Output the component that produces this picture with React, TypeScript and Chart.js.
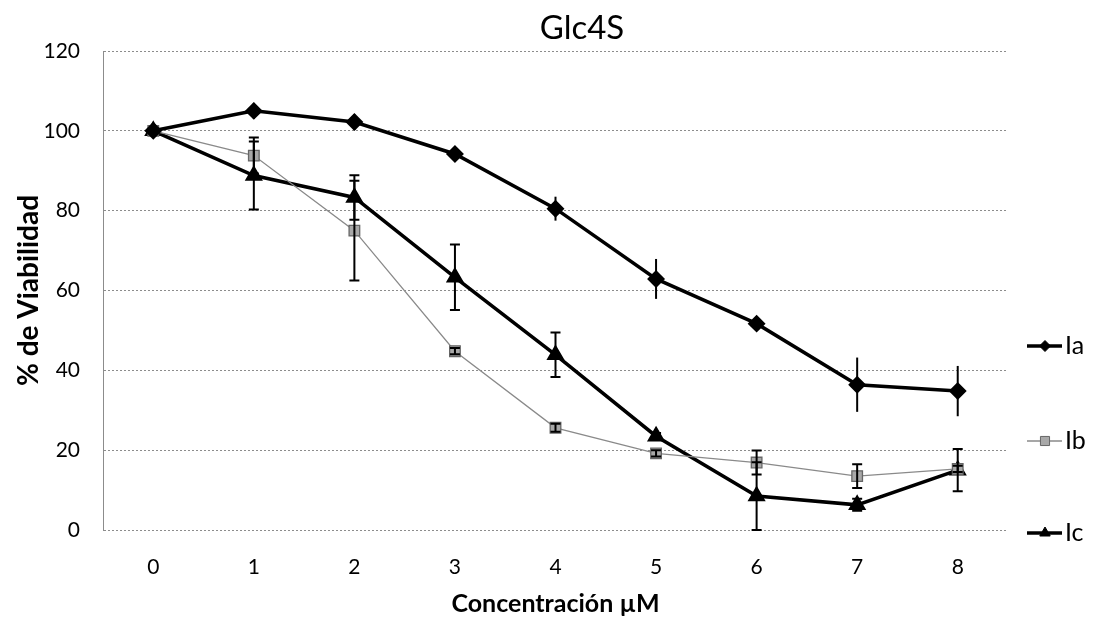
import React, { useEffect, useRef } from "react";
import { Chart, registerables } from "chart.js";

Chart.register(...registerables);

const categories = ["0", "1", "2", "3", "4", "5", "6", "7", "8"];
const iaValues = [100, 105, 102.2, 94.2, 80.5, 62.9, 51.7, 36.4, 34.8];
const iaErrors = [0, 2, 2, 0.5, 3, 5, 0.8, 6.8, 6.3];
const ibValues = [100, 93.8, 75, 44.8, 25.6, 19.2, 16.9, 13.5, 15.3];
const ibErrors = [0, 4.5, 12.5, 0.8, 1, 0.8, 3, 3, 0.8];
const icValues = [100, 88.8, 83.3, 63.3, 43.9, 23.5, 8.5, 6.3, 15];
const icErrors = [0, 8.5, 5.6, 8.2, 5.6, 0.8, 8.5, 1.5, 5.3];
const seriesNames = ["Ia", "Ib", "Ic"];
const chartTitle = "Glc4S";
const xTitle = "Concentración µM";
const yTitle = "% de Viabilidad";

const FONT = "Lato, 'Open Sans', sans-serif";

function drawMarker(ctx: any, style: string, r: number, x: number, y: number, fill: string, stroke: string) {
  ctx.save();
  ctx.fillStyle = fill;
  ctx.strokeStyle = stroke;
  ctx.lineWidth = 1;
  ctx.beginPath();
  if (style === "rectRot") {
    ctx.moveTo(x, y - r);
    ctx.lineTo(x + r, y);
    ctx.lineTo(x, y + r);
    ctx.lineTo(x - r, y);
    ctx.closePath();
  } else if (style === "rect") {
    const s = r * 0.7;
    ctx.rect(x - s, y - s, 2 * s, 2 * s);
  } else {
    ctx.moveTo(x, y - r);
    ctx.lineTo(x + r * 0.87, y + r * 0.5);
    ctx.lineTo(x - r * 0.87, y + r * 0.5);
    ctx.closePath();
  }
  ctx.fill();
  ctx.stroke();
  ctx.restore();
}

const errorBarPlugin = {
  id: "errorBars",
  afterDatasetsDraw(chart: any) {
    const { ctx, scales } = chart;
    const xs = scales.x;
    const ys = scales.y;
    chart.data.datasets.forEach((ds: any) => {
      const errs: number[] = ds.errors;
      if (!errs) return;
      ctx.save();
      ctx.strokeStyle = "#000";
      ctx.lineWidth = ds.errorWidth;
      ds.data.forEach((v: number, i: number) => {
        const e = errs[i];
        if (!e) return;
        const x = xs.getPixelForValue(i);
        const yTop = ys.getPixelForValue(v + e);
        const yBot = ys.getPixelForValue(Math.max(0, v - e));
        ctx.beginPath();
        ctx.moveTo(x, yTop);
        ctx.lineTo(x, yBot);
        const c = ds.capHalf;
        if (c > 0) {
          ctx.moveTo(x - c, yTop);
          ctx.lineTo(x + c, yTop);
          ctx.moveTo(x - c, yBot);
          ctx.lineTo(x + c, yBot);
        }
        ctx.stroke();
      });
      ctx.restore();
    });
  },
};

const decorPlugin = {
  id: "decor",
  afterDraw(chart: any) {
    const { ctx } = chart;
    ctx.save();
    ctx.fillStyle = "#000";
    ctx.font = `33px ${FONT}`;
    ctx.textAlign = "center";
    ctx.textBaseline = "middle";
    ctx.fillText(chartTitle, 582, 28);
    const rows = [346, 441, 533];
    chart.data.datasets.forEach((ds: any, i: number) => {
      const y = rows[i];
      ctx.strokeStyle = ds.borderColor;
      ctx.lineWidth = ds.borderWidth;
      ctx.beginPath();
      ctx.moveTo(1027, y);
      ctx.lineTo(1062, y);
      ctx.stroke();
      drawMarker(ctx, ds.pointStyle, ds.pointRadius - 1, 1045, y, ds.pointBackgroundColor, ds.pointBorderColor);
      ctx.fillStyle = "#000";
      ctx.font = `25px ${FONT}`;
      ctx.textAlign = "left";
      ctx.textBaseline = "middle";
      ctx.fillText(ds.label, 1065, y);
    });
    ctx.restore();
  },
};

export default function App() {
  const ref = useRef<HTMLCanvasElement>(null);
  useEffect(() => {
    if (!ref.current) return;
    const chart = new Chart(ref.current, {
      type: "line",
      data: {
        labels: categories,
        datasets: [
          {
            label: seriesNames[0],
            data: iaValues,
            errors: iaErrors,
            errorWidth: 2,
            capHalf: 0,
            borderColor: "#000",
            backgroundColor: "#000",
            borderWidth: 3.5,
            pointStyle: "rectRot",
            pointRadius: 6.5,
            pointBorderColor: "#000",
            pointBackgroundColor: "#000",
          } as any,
          {
            label: seriesNames[1],
            data: ibValues,
            errors: ibErrors,
            errorWidth: 2,
            capHalf: 5,
            borderColor: "#8a8a8a",
            backgroundColor: "#9a9a9a",
            borderWidth: 1.3,
            pointStyle: "rect",
            pointRadius: 7.5,
            pointBorderColor: "#666",
            pointBackgroundColor: "#a8a8a8",
          } as any,
          {
            label: seriesNames[2],
            data: icValues,
            errors: icErrors,
            errorWidth: 2,
            capHalf: 5,
            borderColor: "#000",
            backgroundColor: "#000",
            borderWidth: 3.5,
            pointStyle: "triangle",
            pointRadius: 7,
            pointBorderColor: "#000",
            pointBackgroundColor: "#000",
          } as any,
        ],
      },
      options: {
        animation: false,
        responsive: false,
        maintainAspectRatio: false,
        layout: { padding: { left: 8, top: 51, right: 85, bottom: 4 } },
        plugins: {
          legend: { display: false },
          title: { display: false },
          tooltip: { enabled: false },
        },
        elements: { line: { tension: 0 } },
        scales: {
          x: {
            type: "category",
            offset: true,
            grid: { display: false, drawTicks: false },
            border: { display: false },
            ticks: {
              color: "#000",
              padding: 25,
              font: { family: FONT, size: 21 },
            },
            title: {
              display: true,
              text: xTitle,
              color: "#000",
              font: { family: FONT, size: 25, weight: "bold" },
              padding: { top: 4, bottom: 4 },
            },
            afterFit(scale: any) {
              scale.height = 93;
            },
          },
          y: {
            min: 0,
            max: 120,
            ticks: {
              stepSize: 20,
              color: "#000",
              padding: 23,
              font: { family: FONT, size: 21 },
            },
            grid: {
              color: "#8c8c8c",
              lineWidth: 1,
              drawTicks: false,
            },
            border: { display: true, color: "#8c8c8c", dash: [2, 2] },
            title: {
              display: true,
              text: yTitle,
              color: "#000",
              font: { family: FONT, size: 28, weight: "bold" },
              padding: { top: 4, bottom: 4 },
            },
            afterFit(scale: any) {
              scale.width = 95;
            },
          },
        },
      } as any,
      plugins: [errorBarPlugin, decorPlugin],
    });
    return () => chart.destroy();
  }, []);
  return (
    <div style={{ position: "fixed", left: 0, top: 0, width: 1093, height: 627, background: "#fff" }}>
      <canvas ref={ref} width={1093} height={627} style={{ width: 1093, height: 627 }} />
    </div>
  );
}
